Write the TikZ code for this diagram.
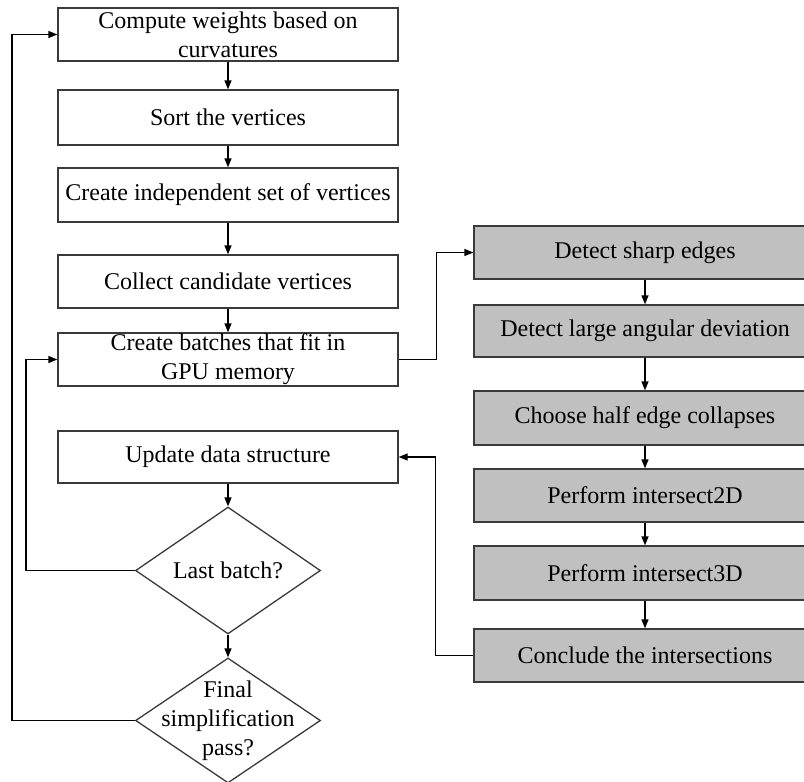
\documentclass[tikz,border=0pt]{standalone}
\usepackage{fontspec}
\setmainfont{Liberation Serif}
\usepackage{xcolor}
\usetikzlibrary{arrows.meta,shapes.geometric}
\definecolor{gpuGray}{HTML}{C0C0C0}
\definecolor{lineGray}{HTML}{3A3A3A}
\tikzset{
  font=\fontsize{24}{29}\selectfont,
  arrow/.style={-{Triangle[length=9pt,width=7pt]}, draw=black, line width=1.3pt},
  loopline/.style={draw=lineGray, line width=1.3pt},
  stepBox/.style={rectangle, draw=lineGray, line width=1.3pt, fill=white, minimum width=340pt, minimum height=53pt, align=center, inner sep=0pt},
  gpuBox/.style={stepBox, fill=gpuGray, minimum width=342pt},
  decision/.style={diamond, draw=lineGray, line width=1.3pt, fill=white, minimum width=185pt, minimum height=125pt, inner sep=0pt, align=center},
  decisionText/.style={align=center, inner sep=0pt}
}

\begin{document}
\begin{tikzpicture}[x=1pt,y=-1pt]
\useasboundingbox (0,0) rectangle (804,782);
\clip (0,0) rectangle (804,782);

% --------------------------------------------------------------------------
% CPU side: simplification loop
% --------------------------------------------------------------------------
\node[stepBox] (weights) at (228,34.5) {Compute weights based on\\curvatures};
\node[stepBox, minimum height=55pt] (sortV) at (228,117.5) {Sort the vertices};
\node[stepBox, minimum height=54pt] (indepSet) at (228,195) {Create independent set of vertices};
\node[stepBox] (collect) at (228,281.5) {Collect candidate vertices};
\node[stepBox] (batches) at (228,359.5) {Create batches that fit in\\GPU memory};
\node[stepBox, minimum height=52pt] (update) at (228,457) {Update data structure};
\node[decision] (lastBatch) at (228,570.5) {Last batch?};
\node[decision, label={[decisionText]center:Final\\simplification\\pass?}] (finalPass) at (228,720.5) {};

% --------------------------------------------------------------------------
% GPU side: per-batch kernels
% --------------------------------------------------------------------------
\node[gpuBox] (sharp) at (645,252.5) {Detect sharp edges};
\node[gpuBox, minimum height=52pt] (angular) at (645,331) {Detect large angular deviation};
\node[gpuBox, minimum height=54pt] (halfEdge) at (645,418) {Choose half edge collapses};
\node[gpuBox] (inter2D) at (645,495.5) {Perform intersect2D};
\node[gpuBox, minimum height=54pt] (inter3D) at (645,573) {Perform intersect3D};
\node[gpuBox] (conclude) at (645,655.5) {Conclude the intersections};

% connectors
\draw[arrow] (weights.south) -- (sortV.north);
\draw[arrow] (sortV.south) -- (indepSet.north);
\draw[arrow] (indepSet.south) -- (collect.north);
\draw[arrow] (collect.south) -- (batches.north);
\draw[arrow] (batches.east) -- ++(38,0) |- (sharp.west);
\draw[arrow] (sharp.south) -- (angular.north);
\draw[arrow] (angular.south) -- (halfEdge.north);
\draw[arrow] (halfEdge.south) -- (inter2D.north);
\draw[arrow] (inter2D.south) -- (inter3D.north);
\draw[arrow] (inter3D.south) -- (conclude.north);
\draw[arrow] (conclude.west) -- ++(-38,0) |- (update.east);
\draw[arrow] (update.south) -- (lastBatch.north);
\draw[arrow] (lastBatch.south) -- (finalPass.north);
\draw[arrow] (lastBatch.west) -- ++(-109,0) |- (batches.west);
\draw[arrow] (finalPass.west) -- ++(-123,0) |- (weights.west);

\end{tikzpicture}
\end{document}
